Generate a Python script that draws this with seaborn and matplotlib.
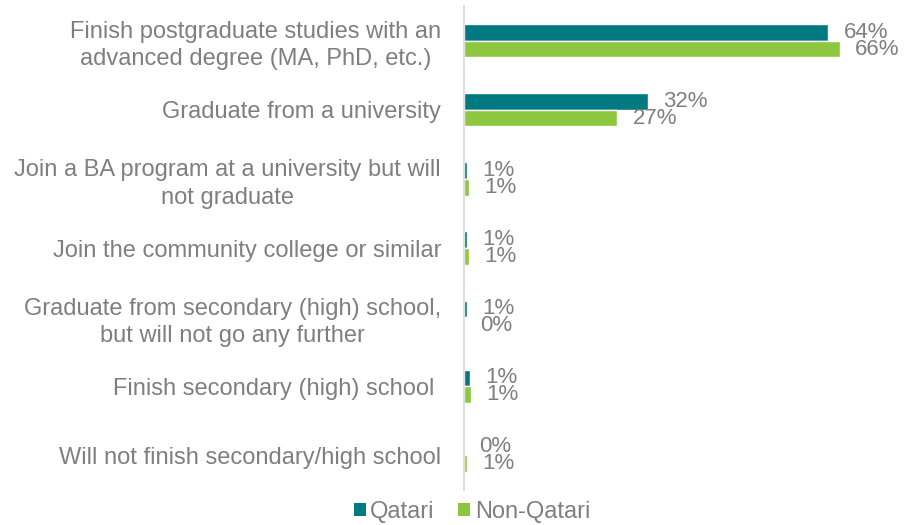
import matplotlib
matplotlib.use("Agg")
import matplotlib.pyplot as plt
import seaborn as sns
import pandas as pd
from matplotlib.patches import Patch

categories = [
    "Finish postgraduate studies with an\nadvanced degree (MA, PhD, etc.)",
    "Graduate from a university",
    "Join a BA program at a university but will\nnot graduate",
    "Join the community college or similar",
    "Graduate from secondary (high) school,\nbut will not go any further",
    "Finish secondary (high) school ",
    "Will not finish secondary/high school",
]
qatari = [64.0, 32.3, 0.6, 0.6, 0.6, 1.0, 0.0]
non_qatari = [66.0, 26.9, 0.8, 0.9, 0.1, 1.2, 0.6]
series = ["Qatari", "Non-Qatari"]
colors = ["#007A80", "#8DC63F"]

df = pd.DataFrame({
    "category": categories * 2,
    "value": qatari + non_qatari,
    "group": [series[0]] * len(categories) + [series[1]] * len(categories),
})

sns.set_theme(style="white")
plt.rcParams["font.family"] = ["Liberation Sans", "DejaVu Sans"]

fig = plt.figure(figsize=(9.07, 5.25), dpi=100)
ax = fig.add_axes([0.5116, 0.067, 0.452, 0.921])

sns.barplot(data=df, y="category", x="value", hue="group", order=categories,
            hue_order=series, palette=colors, orient="h", width=0.48,
            saturation=1, legend=False, ax=ax)

text_color = "#7F7F7F"
for container in ax.containers:
    ax.bar_label(container, labels=[f"{v:.0f}%" for v in container.datavalues],
                 padding=11, fontsize=16, color=text_color)

ax.set_xlim(0, 72)
ax.set_ylim(len(categories) - 0.5, -0.5)
ax.set_xlabel("")
ax.set_ylabel("")
ax.set_xticks([])
for side in ["top", "right", "bottom"]:
    ax.spines[side].set_visible(False)
ax.spines["left"].set_color("#D9D9D9")
ax.spines["left"].set_linewidth(1.2)
ax.tick_params(axis="y", length=0, pad=16.5)
for lbl in ax.get_yticklabels():
    lbl.set_fontsize(17)
    lbl.set_color(text_color)
    lbl.set_multialignment("center")
    lbl.set_linespacing(1.3)

handles = [Patch(facecolor=c, edgecolor="none") for c in colors]
fig.legend(handles, series, loc="center", bbox_to_anchor=(472 / 907, 1 - 512 / 525),
           ncol=2, frameon=False, fontsize=17, handlelength=0.5, handleheight=0.5,
           handletextpad=0.2, columnspacing=1.0, labelcolor=text_color)

fig.savefig("out.png", dpi=100)
